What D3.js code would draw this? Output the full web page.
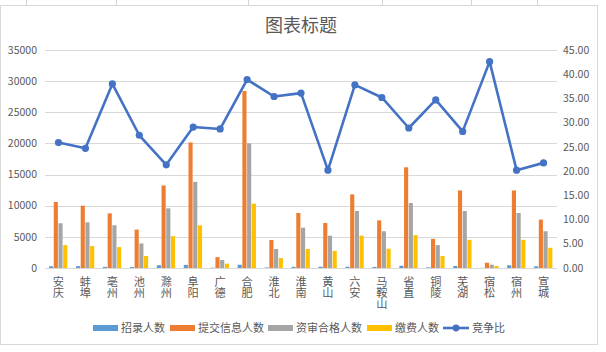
<!DOCTYPE html>
<html><head><meta charset="utf-8">
<script src="https://cdn.jsdelivr.net/npm/d3@7/dist/d3.min.js"></script>
<style>
html,body{margin:0;padding:0;background:#fff;}
svg{display:block;font-family:"Noto Sans CJK SC","Noto Sans",sans-serif;}
.vt{writing-mode:vertical-rl;text-orientation:upright;}
</style></head>
<body><svg id="c" width="606" height="352"></svg>
<script>
const categories = ["安庆","蚌埠","亳州","池州","滁州","阜阳","广德","合肥","淮北","淮南","黄山","六安","马鞍山","省直","铜陵","芜湖","宿松","宿州","宣城"];
const seriesNames = ["招录人数","提交信息人数","资审合格人数","缴费人数"];
const recruit   = [280,300,180,150,450,500,50,520,90,180,200,200,170,360,110,320,15,440,270];
const submitted = [10600,10000,8780,6170,13250,20160,1740,28400,4490,8830,7220,11820,7650,16170,4680,12450,850,12450,7770];
const qualified = [7180,7340,6860,3940,9580,13830,1280,20010,3050,6470,5190,9150,5900,10430,3670,9150,530,8830,5900];
const paid      = [3670,3510,3350,1915,5110,6860,700,10330,1600,3050,2730,5190,3090,5270,1915,4520,320,4520,3245];
const ratioName = "竞争比";
const ratio     = [25.9,24.7,38.0,27.4,21.3,29.1,28.7,38.9,35.4,36.1,20.2,37.8,35.2,28.9,34.7,28.2,42.6,20.2,21.7];
const leftTicks  = [0,5000,10000,15000,20000,25000,30000,35000];
const rightTicks = [0,5,10,15,20,25,30,35,40,45];
const title = "图表标题";

const colors = ["#5B9BD5","#ED7D31","#A5A5A5","#FFC000"];
const lineColor = "#4472C4";
const textColor = "#595959";
const values = [recruit, submitted, qualified, paid];

const svg = d3.select("#c");
[26,116,248,382,471,537].forEach(x=>{
  svg.append("line").attr("x1",x+0.5).attr("x2",x+0.5).attr("y1",0).attr("y2",5).attr("stroke","#D4D4D4");
});
svg.append("rect").attr("x",0.5).attr("y",5.5).attr("width",597).attr("height",339)
  .attr("fill","#fff").attr("stroke","#D9D9D9");

const L = 45, R = 557, T = 50, B = 268;
const x = d3.scaleBand().domain(categories).range([L,R]).padding(0);
const bw = x.bandwidth();
const x1 = d3.scaleBand().domain(seriesNames).range([bw*0.15, bw*0.85]).padding(0);
const y = d3.scaleLinear().domain([0,35000]).range([B,T]);
const y2 = d3.scaleLinear().domain([0,45]).range([B,T]);

svg.append("g").selectAll("line").data(leftTicks).join("line")
  .attr("x1",L).attr("x2",R).attr("y1",d=>Math.round(y(d))+0.5).attr("y2",d=>Math.round(y(d))+0.5)
  .attr("stroke","#D9D9D9").attr("stroke-width",1);

svg.append("g").selectAll("text").data(leftTicks).join("text")
  .attr("x",37).attr("y",d=>y(d)).attr("dy","0.35em").attr("text-anchor","end")
  .attr("fill",textColor).attr("font-size",10.5).text(d=>d);
svg.append("g").selectAll("text").data(rightTicks).join("text")
  .attr("x",563).attr("y",d=>y2(d)).attr("dy","0.35em").attr("text-anchor","start")
  .attr("fill",textColor).attr("font-size",10.5).text(d=>d.toFixed(2));

const gBars = svg.append("g");
seriesNames.forEach((s,si)=>{
  gBars.append("g").selectAll("rect").data(categories).join("rect")
    .attr("x",(c)=>x(c)+x1(s)).attr("width",x1.bandwidth()-0.6)
    .attr("y",(c,i)=>y(values[si][i])).attr("height",(c,i)=>B-y(values[si][i]))
    .attr("fill",colors[si]);
});

// x labels, vertical stacked characters
svg.append("g").selectAll("text").data(categories).join("text")
  .attr("class","vt")
  .attr("x",c=>x(c)+bw/2).attr("y",276)
  .attr("fill",textColor).attr("font-size",11.2).text(c=>c);

const line = d3.line().x((d,i)=>x(categories[i])+bw/2).y(d=>y2(d));
svg.append("path").datum(ratio).attr("d",line).attr("fill","none")
  .attr("stroke",lineColor).attr("stroke-width",2.6).attr("stroke-linejoin","round");
svg.append("g").selectAll("circle").data(ratio).join("circle")
  .attr("cx",(d,i)=>x(categories[i])+bw/2).attr("cy",d=>y2(d)).attr("r",3.6).attr("fill",lineColor);

svg.append("text").attr("x",301).attr("y",32).attr("text-anchor","middle")
  .attr("fill",textColor).attr("font-size",18).text(title);

const lg = svg.append("g");
const legendX = [93,170,268,367];
seriesNames.forEach((s,i)=>{
  lg.append("rect").attr("x",legendX[i]).attr("y",325).attr("width",25).attr("height",6).attr("fill",colors[i]);
  lg.append("text").attr("x",legendX[i]+28).attr("y",328).attr("dy","0.35em")
    .attr("fill",textColor).attr("font-size",11).text(s);
});
lg.append("line").attr("x1",443).attr("x2",469).attr("y1",328).attr("y2",328).attr("stroke",lineColor).attr("stroke-width",2.6);
lg.append("circle").attr("cx",456).attr("cy",328).attr("r",3.4).attr("fill",lineColor);
lg.append("text").attr("x",472).attr("y",328).attr("dy","0.35em").attr("fill",textColor).attr("font-size",11).text(ratioName);
</script></body></html>
